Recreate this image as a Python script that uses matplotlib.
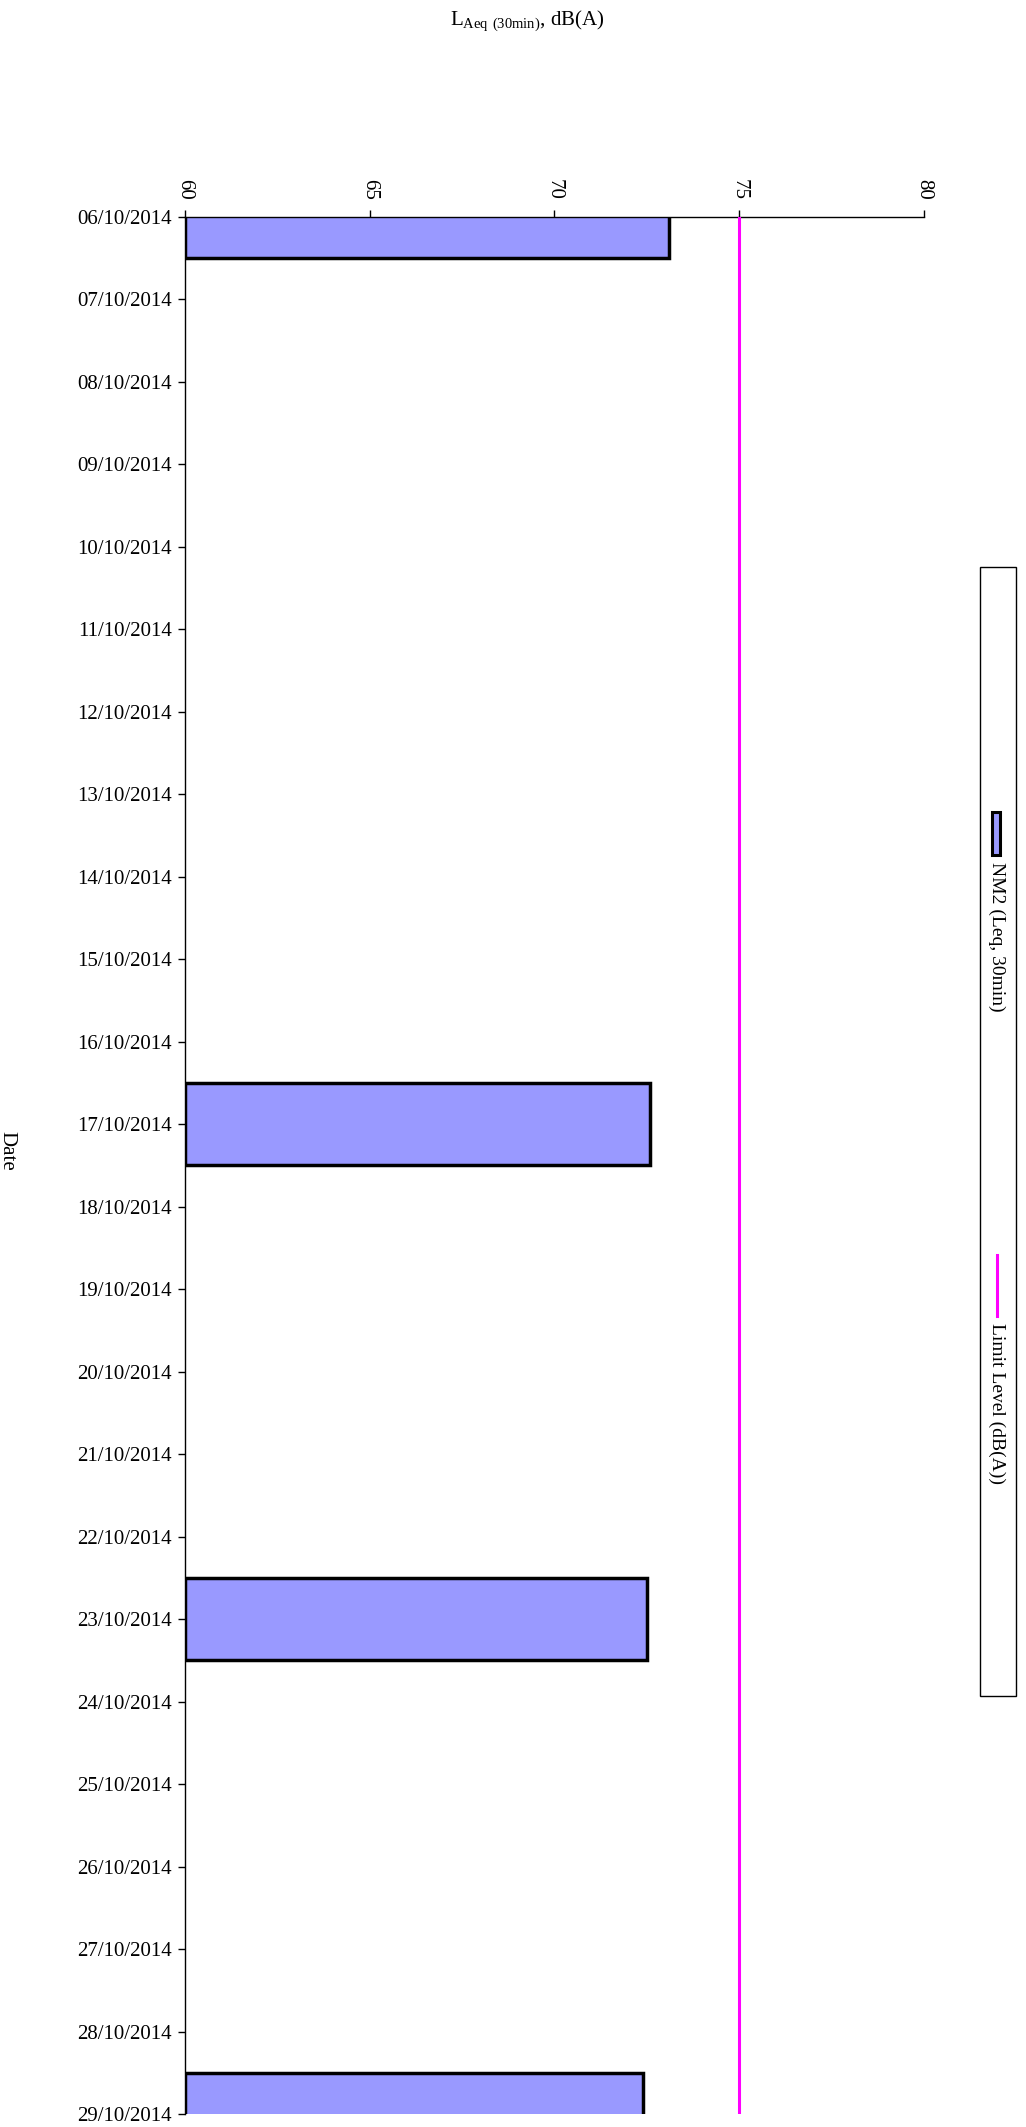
import matplotlib
matplotlib.use("Agg")
import matplotlib.pyplot as plt
from matplotlib.patches import Rectangle
from matplotlib.lines import Line2D
import numpy as np

plt.rcParams['font.family'] = ['Liberation Serif', 'DejaVu Serif']
plt.rcParams['mathtext.fontset'] = 'custom'
plt.rcParams['mathtext.rm'] = 'Liberation Serif'

# datos
fechas = ['06/10/2014', '07/10/2014', '08/10/2014', '09/10/2014', '10/10/2014',
          '11/10/2014', '12/10/2014', '13/10/2014', '14/10/2014', '15/10/2014',
          '16/10/2014', '17/10/2014', '18/10/2014', '19/10/2014', '20/10/2014',
          '21/10/2014', '22/10/2014', '23/10/2014', '24/10/2014', '25/10/2014',
          '26/10/2014', '27/10/2014', '28/10/2014', '29/10/2014']
nan = np.nan
nm2 = [73.1, nan, nan, nan, nan, nan, nan, nan, nan, nan, nan, 72.6,
       nan, nan, nan, nan, nan, 72.5, nan, nan, nan, nan, nan, 72.4]
limite = [75.0] * len(fechas)
ticks_x = [60, 65, 70, 75, 80]

color_barra = '#9999FF'
color_limite = '#FF00FF'

fig = plt.figure(figsize=(10.26, 21.27), dpi=100)
ax = fig.add_axes([0.18, 0.0061, 0.7206, 0.892])

pos = np.arange(len(fechas))
base = ticks_x[0]
vals = np.array(nm2)
mask = ~np.isnan(vals)
ax.barh(pos[mask], vals[mask] - base, left=base, height=1.0,
        color=color_barra, edgecolor='black', linewidth=2.5, zorder=2)
ax.plot(limite, pos, color=color_limite, linewidth=2.2, zorder=3)

ax.set_xlim(ticks_x[0], ticks_x[-1])
ax.set_ylim(len(fechas) - 1, 0)
ax.set_yticks(pos)
ax.set_yticklabels(fechas, fontsize=15)
ax.xaxis.tick_top()
ax.set_xticks(ticks_x)
ax.set_xticklabels([str(t) for t in ticks_x], fontsize=15, rotation=-90)
ax.tick_params(axis='x', direction='out', length=5, width=1, pad=7)
ax.tick_params(axis='y', direction='out', length=5, width=1, pad=4)

for s in ['right', 'bottom']:
    ax.spines[s].set_visible(False)
for s in ['top', 'left']:
    ax.spines[s].set_linewidth(1)
for lbl in ax.get_xticklabels():
    lbl.set_va('bottom')
    lbl.set_ha('center')

fig.text(0.514, 0.990, r'L$_{\mathregular{Aeq\ (30min)}}$, dB(A)', fontsize=15,
         ha='center', va='center')
fig.text(0.007, 0.459, 'Date', fontsize=15, rotation=-90, ha='center', va='center')

# leyenda girada
H = 2127.0
W = 1026.0
fig.patches.append(Rectangle((980 / W, 1 - 1696 / H), 36 / W, 1129 / H,
                             transform=fig.transFigure, facecolor='white',
                             edgecolor='black', linewidth=1, zorder=1))
fig.patches.append(Rectangle((992 / W, 1 - 855 / H), 8 / W, 43 / H,
                             transform=fig.transFigure, facecolor=color_barra,
                             edgecolor='black', linewidth=2.2, zorder=2))
fig.text(997 / W, 1 - 862 / H, 'NM2 (Leq, 30min)', fontsize=14, rotation=-90,
         ha='center', va='top')
fig.lines.append(Line2D([997 / W, 997 / W], [1 - 1255 / H, 1 - 1316 / H],
                        transform=fig.transFigure, color=color_limite, linewidth=2.2))
fig.text(997 / W, 1 - 1323 / H, 'Limit Level (dB(A))', fontsize=14, rotation=-90,
         ha='center', va='top')

fig.savefig('out.png', dpi=100)
